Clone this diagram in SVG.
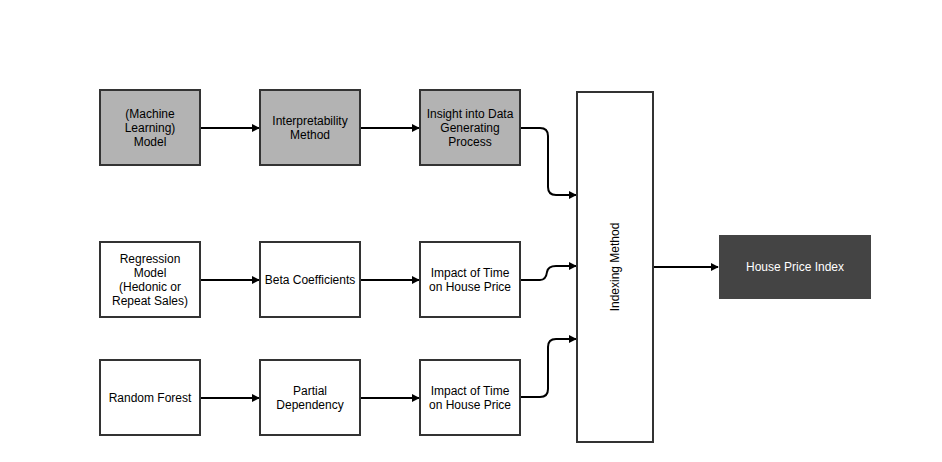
<svg xmlns="http://www.w3.org/2000/svg" width="942" height="462" viewBox="0 0 942 462">
  <style>
    .box { stroke: #333333; stroke-width: 2; }
    .grey { fill: #b3b3b3; }
    .white { fill: #ffffff; }
    .dark { fill: #444444; stroke: none; }
    text { font-family: "Liberation Sans", Arial, sans-serif; font-size: 12px; fill: #000000; text-anchor: middle; }
    .light { fill: #ffffff; }
    .edge { fill: none; stroke: #000000; stroke-width: 2; marker-end: url(#arrow); }
  </style>
  <defs>
    <marker id="arrow" viewBox="0 0 10 10" refX="9" refY="5" markerWidth="4" markerHeight="4" orient="auto" markerUnits="strokeWidth">
      <path d="M0,0 L10,5 L0,10 Z" fill="#000000"/>
    </marker>
  </defs>
  <rect width="942" height="462" fill="#ffffff"/>

  <g id="connectors">
    <path class="edge" d="M200,128 H259"/>
    <path class="edge" d="M360,128 H419"/>
    <path class="edge" d="M520,128 H540 Q548,128 548,136 V187 Q548,195 556,195 H576"/>
    <path class="edge" d="M200,280 H259"/>
    <path class="edge" d="M360,280 H419"/>
    <path class="edge" d="M520,280 H540 Q546,280 547,272 Q548,266 556,266 H576"/>
    <path class="edge" d="M200,398 H259"/>
    <path class="edge" d="M360,398 H419"/>
    <path class="edge" d="M520,397 H540 Q548,397 548,389 V347 Q548,339 556,339 H576"/>
    <path class="edge" d="M653,267 H718"/>
  </g>

  <g id="ml-model">
    <rect class="box grey" x="100" y="90" width="100" height="75"/>
    <text x="150" y="118">(Machine</text>
    <text x="150" y="132">Learning)</text>
    <text x="150" y="146">Model</text>
  </g>
  <g id="interpretability">
    <rect class="box grey" x="260" y="90" width="100" height="75"/>
    <text x="310" y="125">Interpretability</text>
    <text x="310" y="139">Method</text>
  </g>
  <g id="insight">
    <rect class="box grey" x="420" y="90" width="100" height="75"/>
    <text x="470" y="118">Insight into Data</text>
    <text x="470" y="132">Generating</text>
    <text x="470" y="146">Process</text>
  </g>

  <g id="regression">
    <rect class="box white" x="100" y="242" width="100" height="75"/>
    <text x="150" y="263">Regression</text>
    <text x="150" y="277">Model</text>
    <text x="150" y="291">(Hedonic or</text>
    <text x="150" y="305">Repeat Sales)</text>
  </g>
  <g id="beta">
    <rect class="box white" x="260" y="242" width="100" height="75"/>
    <text x="310" y="284">Beta Coefficients</text>
  </g>
  <g id="impact-1">
    <rect class="box white" x="420" y="242" width="100" height="75"/>
    <text x="470" y="277">Impact of Time</text>
    <text x="470" y="291">on House Price</text>
  </g>

  <g id="random-forest">
    <rect class="box white" x="100" y="360" width="100" height="75"/>
    <text x="150" y="402">Random Forest</text>
  </g>
  <g id="partial">
    <rect class="box white" x="260" y="360" width="100" height="75"/>
    <text x="310" y="395">Partial</text>
    <text x="310" y="409">Dependency</text>
  </g>
  <g id="impact-2">
    <rect class="box white" x="420" y="360" width="100" height="75"/>
    <text x="470" y="395">Impact of Time</text>
    <text x="470" y="409">on House Price</text>
  </g>

  <g id="indexing">
    <rect class="box white" x="577" y="92" width="76" height="350"/>
    <text transform="translate(619,267) rotate(-90)">Indexing Method</text>
  </g>

  <g id="house-price-index">
    <rect class="dark" x="719" y="235" width="152" height="64"/>
    <text class="light" x="795" y="271">House Price Index</text>
  </g>
</svg>
